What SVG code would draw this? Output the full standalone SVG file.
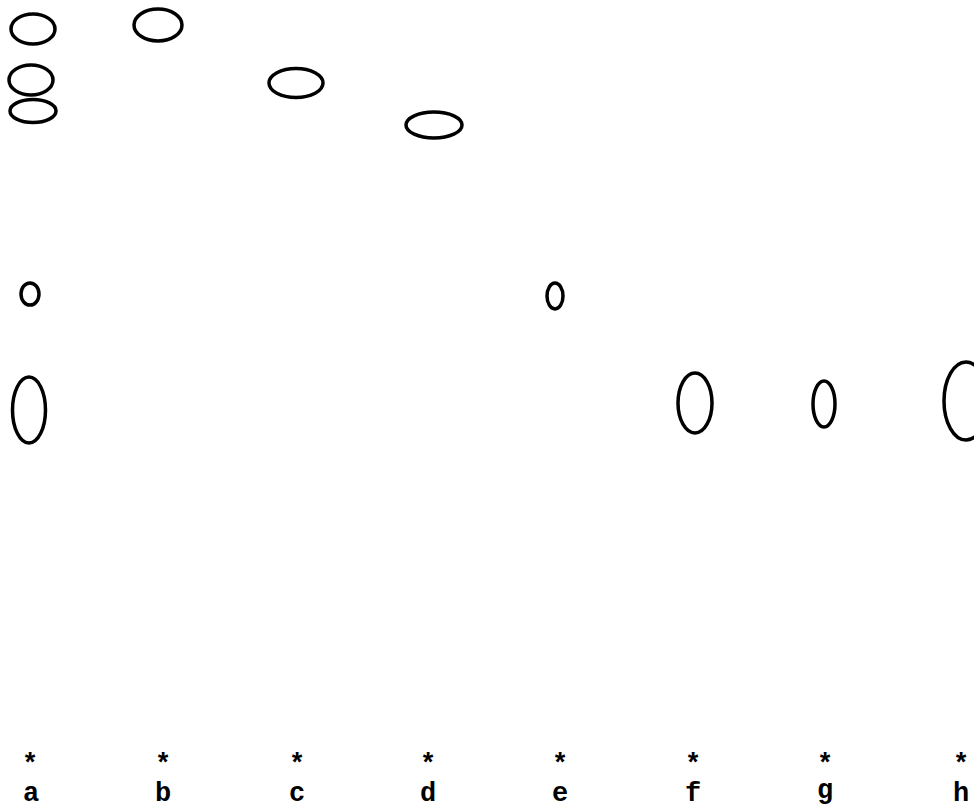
<svg xmlns="http://www.w3.org/2000/svg" width="974" height="806" viewBox="0 0 974 806">
<style>
.spot{fill:none;stroke:#000;stroke-width:3.5}
.lbl{font-family:"Liberation Mono","Courier New",monospace;font-weight:bold;font-size:27px;fill:#000;text-anchor:middle}
.star{font-family:"Liberation Mono","Courier New",monospace;font-weight:bold;font-size:27px;fill:#000;text-anchor:middle}
</style>
<rect width="974" height="806" fill="#fff"/>
<g id="lane-a">
<ellipse class="spot" cx="33" cy="29" rx="22" ry="15"/>
<ellipse class="spot" cx="31" cy="80" rx="22" ry="15"/>
<ellipse class="spot" cx="33" cy="111" rx="23" ry="11.5"/>
<ellipse class="spot" cx="30" cy="294" rx="9" ry="11"/>
<ellipse class="spot" cx="29" cy="410" rx="16.5" ry="33"/>
</g>
<g id="lane-b"><ellipse class="spot" cx="158" cy="25" rx="24" ry="16"/></g>
<g id="lane-c"><ellipse class="spot" cx="296" cy="83" rx="27" ry="14.5"/></g>
<g id="lane-d"><ellipse class="spot" cx="434" cy="125" rx="28" ry="13"/></g>
<g id="lane-e"><ellipse class="spot" cx="555" cy="296" rx="8" ry="13"/></g>
<g id="lane-f"><ellipse class="spot" cx="695" cy="403" rx="17" ry="30"/></g>
<g id="lane-g"><ellipse class="spot" cx="824" cy="404" rx="11" ry="23"/></g>
<g id="lane-h"><ellipse class="spot" cx="966" cy="401" rx="22" ry="39"/></g>
<g id="connectors"></g>
<g id="labels">
<text class="star" x="30" y="772">*</text>
<text class="star" x="163" y="772">*</text>
<text class="star" x="297" y="772">*</text>
<text class="star" x="428" y="772">*</text>
<text class="star" x="560" y="772">*</text>
<text class="star" x="693" y="772">*</text>
<text class="star" x="825" y="772">*</text>
<text class="star" x="961" y="772">*</text>
<text class="lbl" x="31" y="801">a</text>
<text class="lbl" x="163" y="801">b</text>
<text class="lbl" x="297" y="801">c</text>
<text class="lbl" x="428" y="801">d</text>
<text class="lbl" x="560" y="801">e</text>
<text class="lbl" x="693" y="801">f</text>
<text class="lbl" x="825" y="798">g</text>
<text class="lbl" x="961" y="801">h</text>
</g>
</svg>
